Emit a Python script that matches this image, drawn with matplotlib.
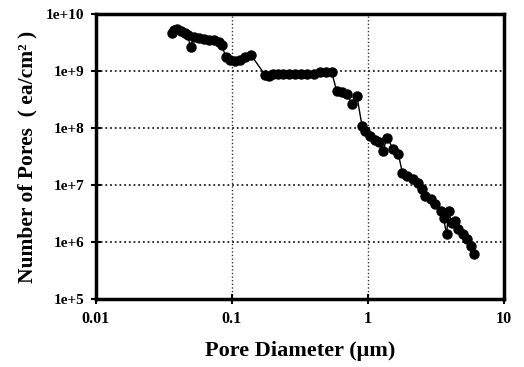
import numpy as np
import matplotlib
matplotlib.use("Agg")
import matplotlib.pyplot as plt
from matplotlib.ticker import FixedLocator, NullLocator

# Pore diameter (um) and number of pores (ea/cm^2)
diameter = [0.036, 0.0378, 0.0392, 0.0419, 0.0449, 0.0472, 0.0497, 0.0523, 0.057,
            0.062, 0.0676, 0.0736, 0.080, 0.0843, 0.0903, 0.0967, 0.105, 0.115,
            0.125, 0.138, 0.176, 0.188, 0.201, 0.219, 0.238, 0.264, 0.292, 0.324,
            0.359, 0.398, 0.441, 0.488, 0.541, 0.589, 0.641, 0.699, 0.761, 0.829,
            0.903, 0.95, 1.035, 1.127, 1.206, 1.29, 1.38, 1.53, 1.67, 1.79, 1.94,
            2.15, 2.34, 2.51, 2.64, 2.88, 3.13, 3.41, 3.59, 3.78, 3.91, 4.12, 4.34,
            4.57, 4.96, 5.32, 5.70, 6.0]
pores = [4.6e9, 5.2e9, 5.5e9, 5.0e9, 4.6e9, 4.3e9, 2.6e9, 3.9e9, 3.8e9,
         3.6e9, 3.5e9, 3.5e9, 3.2e9, 2.8e9, 1.75e9, 1.55e9, 1.5e9, 1.55e9,
         1.75e9, 1.9e9, 8.4e8, 8.1e8, 8.75e8, 8.75e8, 9.0e8, 9.0e8, 9.0e8, 9.0e8,
         9.0e8, 9.0e8, 9.5e8, 9.5e8, 9.5e8, 4.4e8, 4.2e8, 4.0e8, 2.6e8, 3.6e8,
         1.1e8, 9.0e7, 7.3e7, 6.2e7, 5.75e7, 4.0e7, 6.8e7, 4.3e7, 3.5e7, 1.63e7, 1.45e7,
         1.28e7, 1.09e7, 8.5e6, 6.4e6, 5.7e6, 4.6e6, 3.5e6, 2.6e6, 1.37e6, 3.5e6, 2.15e6, 2.3e6,
         1.68e6, 1.37e6, 1.12e6, 8.4e5, 6.3e5]

x_ticks = [0.01, 0.1, 1, 10]
x_labels = ["0.01", "0.1", "1", "10"]
y_ticks = [1e5, 1e6, 1e7, 1e8, 1e9, 1e10]
y_labels = ["1e+5", "1e+6", "1e+7", "1e+8", "1e+9", "1e+10"]

plt.rcParams["font.family"] = ["Liberation Serif", "DejaVu Serif"]
plt.rcParams["font.weight"] = "bold"

fig = plt.figure(figsize=(5.24, 3.67), dpi=100)
ax = fig.add_axes([0.183, 0.185, 0.779, 0.777])

ax.plot(diameter, pores, color="black", linewidth=1.0, marker="o",
        markersize=6.5, markerfacecolor="black", markeredgecolor="black", zorder=3)

ax.set_xscale("log")
ax.set_yscale("log")
ax.set_xlim(0.01, 10)
ax.set_ylim(1e5, 1e10)

ax.xaxis.set_major_locator(FixedLocator(x_ticks))
ax.xaxis.set_minor_locator(NullLocator())
ax.yaxis.set_major_locator(FixedLocator(y_ticks))
ax.yaxis.set_minor_locator(NullLocator())
ax.set_xticklabels(x_labels, fontsize=11.5, fontweight="bold")
ax.set_yticklabels(y_labels, fontsize=11, fontweight="bold")
ax.tick_params(direction="inout", length=7, width=1.5, pad=5)

ax.set_axisbelow(True)
ax.xaxis.grid(True, color="#333333", linestyle=(0, (1, 1.6)), linewidth=1.0)
ax.yaxis.grid(True, color="#222222", linestyle=(0, (1, 1.6)), linewidth=1.3)

for s in ax.spines.values():
    s.set_linewidth(2.5)

ax.set_xlabel("Pore Diameter (\u03bcm)", fontsize=16, fontweight="bold", labelpad=10)
ax.set_ylabel("Number of Pores  ( ea/cm\u00b2 )", fontsize=15.5,
              fontweight="bold", labelpad=6)

fig.savefig("out.png", dpi=100)
